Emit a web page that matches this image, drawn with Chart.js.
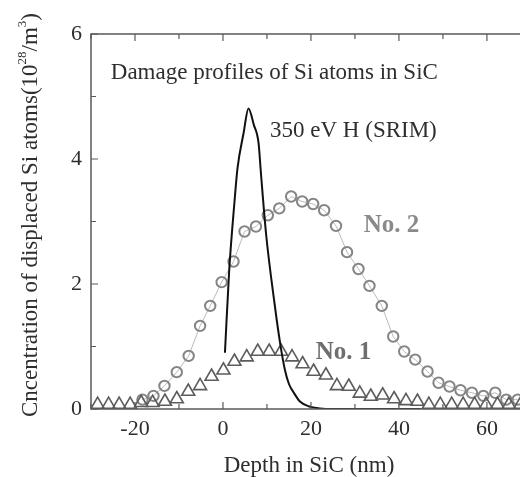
<!DOCTYPE html>
<html>
<head>
<meta charset="utf-8">
<script src="https://cdn.jsdelivr.net/npm/chart.js@4.4.1/dist/chart.umd.min.js"></script>
<style>
  html, body { margin: 0; padding: 0; background: #fff; overflow: hidden; }
  #wrap { width: 540px; height: 477px; }
</style>
</head>
<body>
<div id="wrap"><canvas id="chart"></canvas></div>
<script>
// No. 2 (circles)
const depth2 = [-18.3, -15.8, -13.3, -10.5, -7.8, -5.2, -2.9, -0.3, 2.4, 4.9, 7.5, 10.2, 12.8, 15.5, 18.0, 20.5, 23.0, 25.7, 28.2, 30.8, 33.3, 36.1, 38.7, 41.2, 43.7, 46.5, 49.0, 51.5, 54.0, 56.6, 59.2, 61.9, 64.4, 67.0];
const conc2 = [0.15, 0.21, 0.37, 0.59, 0.85, 1.33, 1.65, 2.03, 2.36, 2.84, 2.92, 3.10, 3.21, 3.40, 3.32, 3.28, 3.18, 2.93, 2.51, 2.24, 1.97, 1.65, 1.16, 0.92, 0.79, 0.60, 0.42, 0.36, 0.30, 0.26, 0.21, 0.26, 0.15, 0.15];

// No. 1 (triangles)
const depth1 = [-28.5, -26.0, -23.6, -21.1, -18.6, -16.0, -13.2, -10.5, -7.9, -5.2, -2.6, 0.1, 2.6, 5.4, 7.9, 10.5, 13.2, 15.7, 18.1, 20.6, 23.4, 25.9, 28.6, 31.1, 33.6, 36.3, 38.9, 41.6, 44.2, 46.8, 49.4, 52.0, 54.6, 57.2, 59.8, 62.4, 65.0, 67.6];
const conc1 = [0.07, 0.07, 0.07, 0.07, 0.10, 0.10, 0.12, 0.16, 0.28, 0.37, 0.52, 0.62, 0.76, 0.83, 0.92, 0.92, 0.92, 0.83, 0.72, 0.60, 0.54, 0.37, 0.36, 0.25, 0.20, 0.22, 0.16, 0.13, 0.12, 0.07, 0.07, 0.07, 0.07, 0.07, 0.07, 0.07, 0.07, 0.07];

// 350 eV H (SRIM) line
const depthS = [0.45, 1.4, 2.6, 3.3, 4.7, 5.8, 7.0, 8.1, 8.6, 9.8, 11.7, 13.0, 14.1, 15.0, 16.2, 17.5, 19.6, 22, 25, 30, 35, 40, 45];
const concS = [0.9, 2.2, 3.3, 3.85, 4.42, 4.81, 4.55, 4.25, 3.8, 2.8, 1.7, 1.05, 0.62, 0.40, 0.25, 0.12, 0.04, 0.01, 0, 0, 0, 0, 0];

const xTicks = [-20, 0, 20, 40, 60];
const yTicks = [0, 2, 4, 6];

const serif = "'Liberation Serif', 'DejaVu Serif', serif";
const txt = '#2e2e2e';
const frameColor = '#5a5a5a';

function pts(xs, ys) { return xs.map((x, i) => ({ x: x, y: ys[i] })); }

const decor = {
  id: 'decor',
  afterDraw(chart) {
    const { ctx, chartArea: a, scales } = chart;
    const xs = scales.x, ys = scales.y;
    ctx.save();
    // frame
    ctx.strokeStyle = frameColor;
    ctx.lineWidth = 1.5;
    ctx.strokeRect(a.left, a.top, a.right - a.left, a.bottom - a.top);
    // inward ticks
    ctx.lineWidth = 1.2;
    ctx.beginPath();
    for (let v = -30; v <= 70; v += 10) {
      const px = xs.getPixelForValue(v);
      const len = v % 20 === 0 ? 7 : 5;
      ctx.moveTo(px, a.bottom); ctx.lineTo(px, a.bottom - len);
      ctx.moveTo(px, a.top); ctx.lineTo(px, a.top + len);
    }
    for (let v = 0; v <= 6; v += 1) {
      const py = ys.getPixelForValue(v);
      const len = v % 2 === 0 ? 7 : 5;
      ctx.moveTo(a.left, py); ctx.lineTo(a.left + len, py);
    }
    ctx.stroke();

    // annotations
    ctx.textBaseline = 'middle';
    ctx.textAlign = 'left';
    ctx.fillStyle = txt;
    ctx.font = '23px ' + serif;
    ctx.fillText('Damage profiles of Si atoms in SiC', xs.getPixelForValue(-25.5), ys.getPixelForValue(5.38));
    ctx.fillText('350 eV H (SRIM)', xs.getPixelForValue(10.7), ys.getPixelForValue(4.45));
    ctx.font = 'bold 25px ' + serif;
    ctx.fillStyle = '#8a8a8a';
    ctx.fillText('No. 2', xs.getPixelForValue(32), ys.getPixelForValue(2.93));
    ctx.fillStyle = '#6e6e6e';
    ctx.fillText('No. 1', xs.getPixelForValue(21.1), ys.getPixelForValue(0.91));

    // x title
    ctx.fillStyle = txt;
    ctx.font = '23px ' + serif;
    ctx.textAlign = 'center';
    ctx.fillText('Depth in SiC (nm)', 309, 466);

    // y title with superscripts
    const parts = [
      ['Cncentration of displaced Si atoms(10', false],
      ['28', true],
      ['/m', false],
      ['3', true],
      [')', false]
    ];
    const big = '23px ' + serif, small = '13px ' + serif;
    let total = 0;
    parts.forEach(p => { ctx.font = p[1] ? small : big; total += ctx.measureText(p[0]).width; });
    ctx.translate(31, 215);
    ctx.rotate(-Math.PI / 2);
    ctx.textAlign = 'left';
    let cx = -total / 2;
    parts.forEach(p => {
      ctx.font = p[1] ? small : big;
      ctx.fillText(p[0], cx, p[1] ? -8 : 0);
      cx += ctx.measureText(p[0]).width;
    });
    ctx.restore();
  }
};

new Chart(document.getElementById('chart'), {
  type: 'scatter',
  data: {
    datasets: [
      {
        label: '350 eV H (SRIM)',
        data: pts(depthS, concS),
        showLine: true,
        borderColor: '#111',
        borderWidth: 2,
        pointRadius: 0,
        cubicInterpolationMode: 'monotone'
      },
      {
        label: 'No. 1',
        data: pts(depth1, conc1),
        showLine: false,
        pointStyle: 'triangle',
        pointRadius: 7.5,
        pointBorderColor: '#5c5c5c',
        pointBackgroundColor: 'rgba(0,0,0,0)',
        pointBorderWidth: 1.6
      },
      {
        label: 'No. 2',
        data: pts(depth2, conc2),
        showLine: true,
        borderColor: '#a8a8a8',
        borderWidth: 0.8,
        pointStyle: 'circle',
        pointRadius: 5.2,
        pointBorderColor: '#858585',
        pointBackgroundColor: 'rgba(0,0,0,0)',
        pointBorderWidth: 2
      }
    ]
  },
  options: {
    responsive: true,
    maintainAspectRatio: false,
    animation: false,
    layout: { padding: { top: 34, right: 9, left: 0, bottom: 0 } },
    plugins: { legend: { display: false }, tooltip: { enabled: false } },
    scales: {
      x: {
        type: 'linear',
        min: -30,
        max: 70,
        afterFit: s => { s.height = 68; },
        afterBuildTicks: s => { s.ticks = xTicks.map(v => ({ value: v })); },
        grid: { display: false, drawTicks: false },
        border: { display: false },
        ticks: { color: txt, font: { family: serif, size: 22 }, padding: 7, maxRotation: 0 }
      },
      y: {
        type: 'linear',
        min: 0,
        max: 6,
        afterFit: s => { s.width = 91; },
        afterBuildTicks: s => { s.ticks = yTicks.map(v => ({ value: v })); },
        grid: { display: false, drawTicks: false },
        border: { display: false },
        ticks: { color: txt, font: { family: serif, size: 22 }, padding: 9 }
      }
    }
  },
  plugins: [decor]
});
</script>
</body>
</html>
